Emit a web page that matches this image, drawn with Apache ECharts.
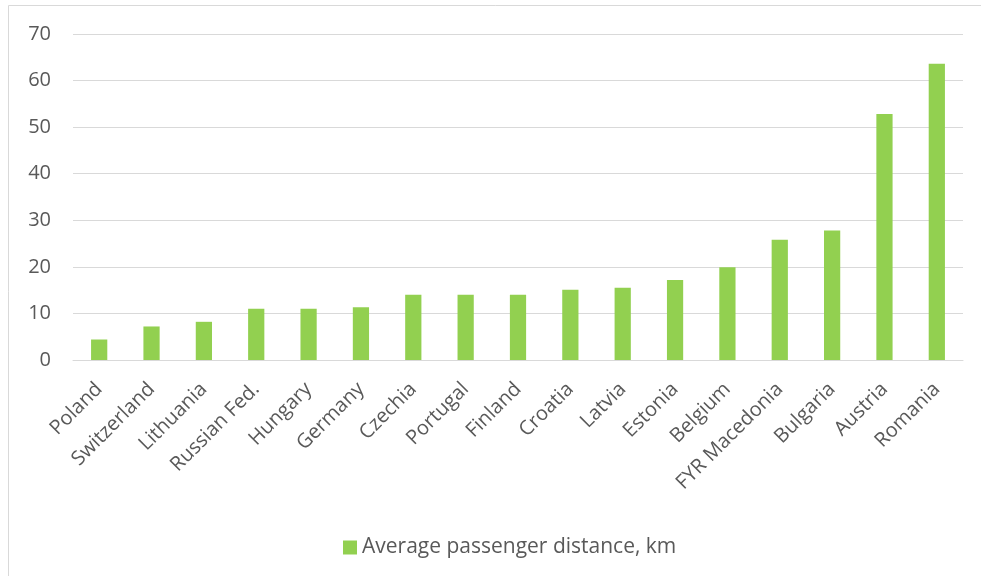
<!DOCTYPE html>
<html>
<head>
<meta charset="utf-8">
<script src="https://cdn.jsdelivr.net/npm/echarts@6/dist/echarts.min.js"></script>
<style>html,body{margin:0;padding:0;background:#fff}#c{width:981px;height:576px}</style>
</head>
<body>
<div id="c"></div>
<script>
const categories = ["Poland","Switzerland","Lithuania","Russian Fed.","Hungary","Germany","Czechia","Portugal","Finland","Croatia","Latvia","Estonia","Belgium","FYR Macedonia","Bulgaria","Austria","Romania"];
const values = [4.4, 7.2, 8.2, 11.0, 11.0, 11.3, 14.0, 14.0, 14.0, 15.1, 15.5, 17.2, 19.9, 25.8, 27.8, 52.8, 63.6];
const seriesName = "Average passenger distance, km";
const yTicks = { min: 0, max: 70, interval: 10 };

const chart = echarts.init(document.getElementById('c'), null, {renderer: 'canvas'});
const font = '"Open Sans", sans-serif';
chart.setOption({
  animation: false,
  graphic: [{
    type: 'rect', shape: {x: 8.5, y: 5.5, width: 1000, height: 600},
    style: {fill: 'none', stroke: '#d9d9d9', lineWidth: 1}, silent: true
  }],
  grid: {left: 73, right: 18, top: 34, bottom: 216, containLabel: false},
  legend: {
    left: 338, top: 532, itemWidth: 14, itemHeight: 14, icon: 'rect',
    textStyle: {color: '#595959', fontSize: 21, fontFamily: font},
    data: [seriesName]
  },
  xAxis: {
    type: 'category', data: categories,
    axisLine: {show: true, lineStyle: {color: '#d9d9d9', width: 1}},
    axisTick: {show: false},
    axisLabel: {rotate: 45, color: '#595959', fontSize: 20, fontFamily: font, margin: 26, interval: 0}
  },
  yAxis: {
    type: 'value', min: yTicks.min, max: yTicks.max, interval: yTicks.interval,
    axisLine: {show: false}, axisTick: {show: false},
    splitLine: {lineStyle: {color: '#d9d9d9', width: 1}},
    axisLabel: {color: '#595959', fontSize: 20, fontFamily: font, margin: 22}
  },
  series: [{
    name: seriesName, type: 'bar', data: values, barWidth: '31%',
    itemStyle: {color: '#92d050'}
  }]
});
</script>
</body>
</html>
